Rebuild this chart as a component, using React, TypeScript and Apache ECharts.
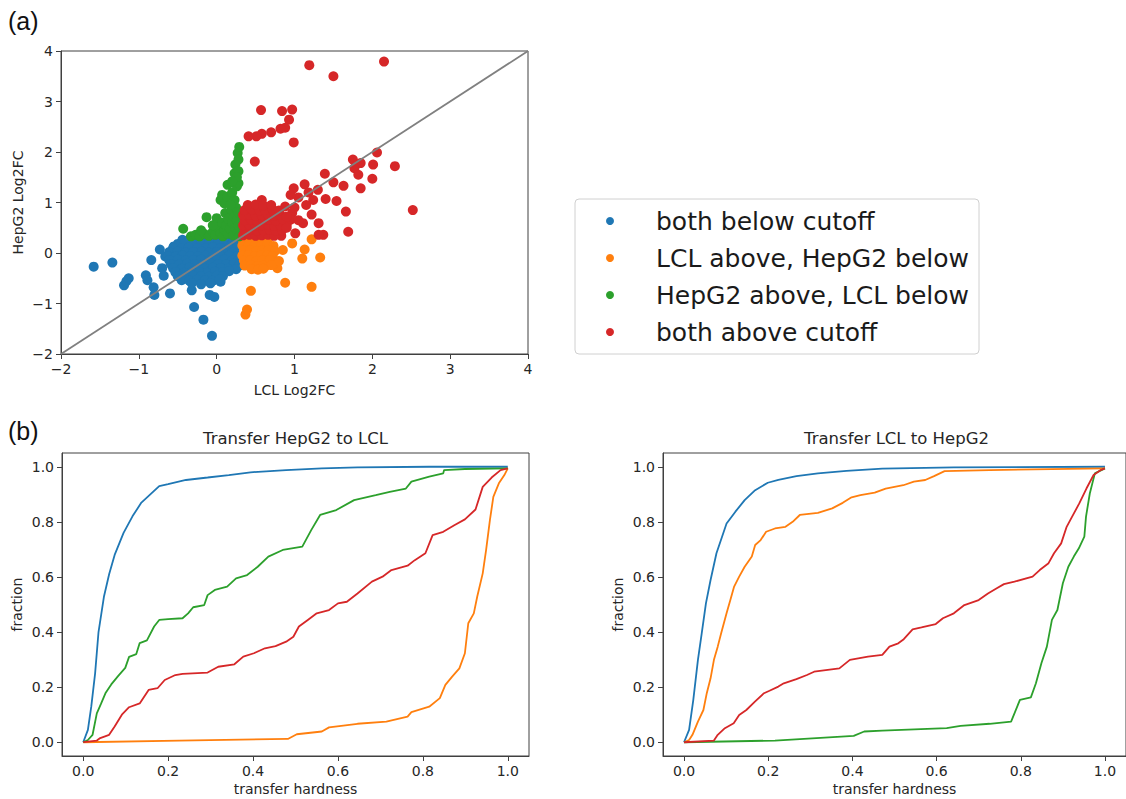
import React, { useEffect, useRef } from "react";
import * as echarts from "echarts";

// ---------- DATA ----------
const legendLabels = [
  "both below cutoff",
  "LCL above, HepG2 below",
  "HepG2 above, LCL below",
  "both above cutoff",
];
const panelTitles = ["Transfer HepG2 to LCL", "Transfer LCL to HepG2"];
const cdfTicks = [0, 0.2, 0.4, 0.6, 0.8, 1.0];

const bothBelow: number[][] = [
  [-1.58, -0.27], [-1.34, -0.19], [-1.19, -0.64], [-1.16, -0.56], [-1.13, -0.5], [-0.91, -0.44],
  [-0.89, -0.54], [-0.81, -0.68], [-0.8, -0.83], [-0.84, -0.14], [-0.73, 0.07], [-0.6, -0.8],
  [-0.29, -1.07], [-0.17, -1.32], [-0.06, -1.64], [-0.09, -0.83], [-0.03, -0.87], [0.05, -0.57],
  [-0.32, -0.74], [-0.66, -0.07], [-0.55, 0.13], [-0.7, -0.3], [-0.68, -0.45],
  [-0.44, 0.26], [-0.35, 0.27], [-0.24, 0.25], [-0.15, 0.27], [-0.05, 0.26], [0.06, 0.25], [0.15, 0.27], [0.25, 0.26],
  [-0.5, 0.18], [-0.41, 0.19], [-0.3, 0.17], [-0.2, 0.19], [-0.1, 0.18], [0.01, 0.17], [0.1, 0.19], [0.2, 0.18], [0.27, 0.17],
  [-0.56, 0.1], [-0.45, 0.09], [-0.36, 0.11], [-0.25, 0.1], [-0.14, 0.09], [-0.05, 0.11], [0.05, 0.1], [0.16, 0.09], [0.26, 0.1],
  [-0.61, 0.02], [-0.5, 0.03], [-0.4, 0.01], [-0.3, 0.02], [-0.19, 0.03], [-0.1, 0.01], [0.0, 0.02], [0.1, 0.03], [0.2, 0.01], [0.28, 0.02],
  [-0.63, -0.06], [-0.53, -0.07], [-0.44, -0.05], [-0.34, -0.06], [-0.24, -0.07], [-0.14, -0.05], [-0.04, -0.06], [0.06, -0.07], [0.16, -0.05], [0.27, -0.06],
  [-0.61, -0.14], [-0.5, -0.13], [-0.4, -0.15], [-0.3, -0.14], [-0.2, -0.13], [-0.1, -0.15], [0.0, -0.14], [0.1, -0.13], [0.2, -0.15], [0.28, -0.14],
  [-0.59, -0.22], [-0.48, -0.23], [-0.38, -0.21], [-0.28, -0.22], [-0.18, -0.23], [-0.08, -0.21], [0.02, -0.22], [0.12, -0.23], [0.22, -0.21], [0.28, -0.26],
  [-0.56, -0.3], [-0.45, -0.31], [-0.35, -0.29], [-0.25, -0.3], [-0.15, -0.31], [-0.05, -0.29], [0.05, -0.3], [0.15, -0.31], [0.25, -0.32],
  [-0.53, -0.38], [-0.42, -0.39], [-0.32, -0.37], [-0.22, -0.38], [-0.12, -0.39], [-0.02, -0.37], [0.08, -0.38], [0.16, -0.36],
  [-0.5, -0.46], [-0.4, -0.47], [-0.3, -0.45], [-0.2, -0.46], [-0.1, -0.47], [0.0, -0.45], [0.08, -0.46],
  [-0.45, -0.54], [-0.35, -0.55], [-0.25, -0.53], [-0.15, -0.54], [-0.05, -0.55], [0.04, -0.52],
  [-0.32, -0.6], [-0.2, -0.62], [-0.08, -0.6],
];

const lclAbove: number[][] = [
  [0.44, -0.75], [0.37, -1.22], [0.39, -1.12], [0.88, -0.59], [1.22, -0.67], [1.33, -0.09],
  [1.1, -0.11], [1.13, 0.07], [1.22, 0.27], [0.97, 0.19], [0.78, -0.3], [0.74, -0.21], [0.62, -0.27],
  [0.34, 0.25], [0.42, 0.26], [0.5, 0.24], [0.58, 0.25], [0.66, 0.27],
  [0.33, 0.15], [0.41, 0.16], [0.49, 0.14], [0.57, 0.15], [0.65, 0.16], [0.73, 0.14],
  [0.35, 0.05], [0.43, 0.06], [0.51, 0.04], [0.59, 0.05], [0.67, 0.06], [0.75, 0.04], [0.85, 0.06],
  [0.33, -0.05], [0.41, -0.04], [0.49, -0.06], [0.57, -0.05], [0.65, -0.04], [0.72, -0.06],
  [0.35, -0.15], [0.43, -0.14], [0.51, -0.16], [0.59, -0.15], [0.68, -0.14], [0.8, -0.16],
  [0.36, -0.25], [0.44, -0.24], [0.52, -0.26], [0.6, -0.25], [0.7, -0.24],
  [0.45, -0.32], [0.53, -0.33], [0.6, -0.31],
];

const hepAbove: number[][] = [
  [-0.43, 0.48], [-0.33, 0.33], [-0.27, 0.36], [-0.22, 0.33], [-0.16, 0.38], [-0.13, 0.71],
  [-0.1, 0.34], [-0.05, 0.42], [-0.02, 0.36], [0.0, 0.69], [0.02, 0.5], [0.05, 0.38], [0.07, 0.6],
  [0.08, 0.33], [0.1, 0.45], [0.11, 0.79], [0.12, 0.55], [0.14, 0.38], [0.15, 0.68], [0.17, 0.48],
  [0.19, 0.85], [0.2, 0.6], [0.21, 0.35], [0.22, 0.72], [0.24, 0.5], [0.25, 0.9], [0.26, 0.65],
  [0.27, 0.4], [0.28, 0.8], [0.28, 0.55], [0.29, 0.33], [0.05, 1.05], [0.07, 1.15], [0.1, 0.98],
  [0.14, 1.12], [0.14, 1.35], [0.2, 1.2], [0.23, 1.05], [0.23, 1.58], [0.24, 1.75], [0.26, 1.32],
  [0.27, 1.98], [0.28, 1.38], [0.28, 1.62], [0.28, 1.85], [0.29, 2.1], [0.26, 1.5], [0.2, 1.42],
  [0.18, 0.95], [-0.05, 0.55], [-0.2, 0.45],
];

const bothAbove: number[][] = [
  [1.19, 3.72], [2.15, 3.79], [1.5, 3.5], [0.57, 2.83], [0.84, 2.81], [0.97, 2.84], [0.93, 2.64],
  [0.88, 2.48], [0.82, 2.46], [0.7, 2.39], [0.58, 2.36], [0.51, 2.31], [0.41, 2.31], [0.99, 2.19],
  [0.49, 1.81], [2.06, 1.99], [1.75, 1.85], [1.85, 1.78], [2.01, 1.75], [2.29, 1.72], [1.77, 1.68],
  [1.82, 1.55], [1.39, 1.57], [2.0, 1.47], [1.85, 1.28], [1.63, 1.33], [1.5, 1.4], [1.13, 1.36],
  [0.99, 1.28], [1.4, 1.07], [1.54, 1.03], [1.66, 0.82], [1.69, 0.42], [2.52, 0.85], [1.3, 1.25],
  [1.24, 1.05], [1.15, 0.95], [1.22, 0.76], [1.31, 0.59], [1.11, 0.59], [1.37, 0.36], [1.31, 0.36],
  [0.83, 0.34], [1.01, 0.39], [0.97, 0.79], [0.88, 0.92], [0.58, 1.05], [0.48, 0.92], [0.65, 0.79],
  [0.34, 0.35], [0.42, 0.36], [0.5, 0.34], [0.58, 0.35], [0.66, 0.36], [0.74, 0.34],
  [0.36, 0.45], [0.44, 0.46], [0.52, 0.44], [0.6, 0.45], [0.68, 0.46], [0.76, 0.44], [0.84, 0.45],
  [0.34, 0.55], [0.42, 0.56], [0.5, 0.54], [0.58, 0.55], [0.66, 0.56], [0.74, 0.54], [0.82, 0.55], [0.9, 0.56],
  [0.36, 0.65], [0.44, 0.66], [0.52, 0.64], [0.6, 0.65], [0.68, 0.66], [0.76, 0.64], [0.86, 0.65], [0.95, 0.66],
  [0.34, 0.75], [0.42, 0.76], [0.5, 0.74], [0.58, 0.75], [0.66, 0.76], [0.74, 0.74], [0.82, 0.75],
  [0.36, 0.85], [0.45, 0.86], [0.55, 0.84], [0.62, 0.85], [0.72, 0.86], [0.8, 0.84],
  [0.4, 0.95], [0.5, 0.96], [0.6, 0.94], [0.7, 0.95],
  [0.9, 0.72], [1.0, 0.9], [1.05, 1.1], [0.95, 1.15], [1.18, 1.2], [0.9, 0.5], [1.05, 0.65],
];

const diagonal: number[][] = [[-2, -2], [4, 4]];

// Transfer HepG2 -> LCL (left panel)
const leftBlue: number[][] = [
  [0, 0], [0.011, 0.045], [0.019, 0.13], [0.028, 0.25], [0.036, 0.4], [0.049, 0.53], [0.061, 0.61],
  [0.074, 0.68], [0.095, 0.76], [0.116, 0.82], [0.137, 0.87], [0.158, 0.9], [0.179, 0.93], [0.2, 0.937],
  [0.242, 0.952], [0.293, 0.961], [0.343, 0.97], [0.394, 0.98], [0.478, 0.988], [0.562, 0.994],
  [0.646, 0.998], [0.815, 1.0], [1, 1],
];
const leftOrange: number[][] = [
  [0, 0], [0.226, 0.006], [0.482, 0.012], [0.503, 0.029], [0.562, 0.039], [0.579, 0.054], [0.646, 0.067],
  [0.714, 0.075], [0.764, 0.093], [0.773, 0.109], [0.815, 0.129], [0.84, 0.16], [0.853, 0.208],
  [0.869, 0.238], [0.886, 0.268], [0.899, 0.323], [0.907, 0.432], [0.92, 0.468], [0.928, 0.528],
  [0.941, 0.613], [0.949, 0.698], [0.958, 0.807], [0.966, 0.891], [0.979, 0.94], [0.992, 0.97], [1, 0.994],
];
const leftGreen: number[][] = [
  [0, 0], [0.011, 0.008], [0.022, 0.027], [0.032, 0.105], [0.042, 0.14], [0.053, 0.18], [0.066, 0.21],
  [0.082, 0.24], [0.099, 0.27], [0.108, 0.31], [0.125, 0.32], [0.133, 0.36], [0.15, 0.37], [0.167, 0.42],
  [0.179, 0.444], [0.2, 0.447], [0.234, 0.45], [0.247, 0.468], [0.259, 0.49], [0.285, 0.498],
  [0.293, 0.534], [0.31, 0.553], [0.339, 0.565], [0.36, 0.595], [0.386, 0.607], [0.411, 0.637],
  [0.436, 0.674], [0.47, 0.698], [0.516, 0.71], [0.537, 0.77], [0.558, 0.825], [0.596, 0.843],
  [0.638, 0.879], [0.689, 0.897], [0.722, 0.909], [0.76, 0.921], [0.773, 0.946], [0.815, 0.964],
  [0.848, 0.976], [0.85, 0.988], [0.899, 0.992], [1, 0.994],
];
const leftRed: number[][] = [
  [0, 0], [0.032, 0.006], [0.04, 0.015], [0.061, 0.027], [0.074, 0.057], [0.091, 0.1], [0.108, 0.127],
  [0.133, 0.141], [0.154, 0.19], [0.175, 0.196], [0.192, 0.226], [0.217, 0.244], [0.234, 0.248],
  [0.293, 0.253], [0.318, 0.274], [0.356, 0.283], [0.377, 0.311], [0.402, 0.323], [0.428, 0.341],
  [0.453, 0.349], [0.478, 0.365], [0.495, 0.383], [0.508, 0.42], [0.529, 0.444], [0.55, 0.468],
  [0.579, 0.48], [0.6, 0.504], [0.621, 0.51], [0.646, 0.54], [0.68, 0.583], [0.705, 0.601],
  [0.726, 0.625], [0.764, 0.641], [0.781, 0.661], [0.806, 0.686], [0.823, 0.752], [0.848, 0.764],
  [0.874, 0.788], [0.899, 0.809], [0.924, 0.845], [0.941, 0.927], [0.962, 0.961], [0.983, 0.988], [1, 0.994],
];

// Transfer LCL -> HepG2 (right panel)
const rightBlue: number[][] = [
  [0, 0], [0.012, 0.045], [0.022, 0.154], [0.033, 0.299], [0.042, 0.395], [0.052, 0.504], [0.063, 0.589],
  [0.077, 0.686], [0.101, 0.794], [0.122, 0.837], [0.144, 0.879], [0.169, 0.915], [0.199, 0.942],
  [0.224, 0.952], [0.267, 0.966], [0.318, 0.976], [0.386, 0.985], [0.471, 0.993], [0.641, 0.998], [1, 1],
];
const rightOrange: number[][] = [
  [0, 0], [0.012, 0.008], [0.02, 0.027], [0.033, 0.075], [0.046, 0.117], [0.054, 0.178], [0.063, 0.232],
  [0.071, 0.299], [0.08, 0.347], [0.088, 0.395], [0.101, 0.468], [0.11, 0.516], [0.119, 0.565],
  [0.131, 0.601], [0.144, 0.637], [0.161, 0.674], [0.169, 0.716], [0.182, 0.734], [0.195, 0.764],
  [0.216, 0.776], [0.241, 0.782], [0.258, 0.8], [0.275, 0.825], [0.318, 0.833], [0.352, 0.849],
  [0.377, 0.869], [0.398, 0.889], [0.419, 0.897], [0.453, 0.906], [0.479, 0.921], [0.521, 0.933],
  [0.546, 0.946], [0.573, 0.952], [0.594, 0.966], [0.619, 0.984], [0.726, 0.988], [1, 0.994],
];
const rightGreen: number[][] = [
  [0, 0], [0.216, 0.006], [0.403, 0.023], [0.428, 0.039], [0.471, 0.042], [0.624, 0.051], [0.657, 0.059],
  [0.726, 0.067], [0.777, 0.075], [0.785, 0.105], [0.798, 0.154], [0.824, 0.163], [0.836, 0.214],
  [0.849, 0.287], [0.862, 0.347], [0.874, 0.444], [0.887, 0.48], [0.9, 0.577], [0.913, 0.637],
  [0.926, 0.674], [0.938, 0.704], [0.951, 0.746], [0.955, 0.819], [0.964, 0.903], [0.976, 0.976], [1, 0.994],
];
const rightRed: number[][] = [
  [0, 0], [0.071, 0.006], [0.08, 0.027], [0.097, 0.051], [0.118, 0.069], [0.131, 0.099], [0.148, 0.117],
  [0.169, 0.148], [0.19, 0.178], [0.203, 0.187], [0.224, 0.202], [0.237, 0.214], [0.267, 0.229],
  [0.292, 0.244], [0.309, 0.256], [0.369, 0.268], [0.394, 0.299], [0.437, 0.311], [0.471, 0.317],
  [0.488, 0.347], [0.509, 0.359], [0.522, 0.374], [0.543, 0.41], [0.564, 0.417], [0.598, 0.429],
  [0.615, 0.45], [0.641, 0.468], [0.666, 0.498], [0.7, 0.516], [0.722, 0.54], [0.743, 0.559],
  [0.76, 0.574], [0.785, 0.583], [0.828, 0.601], [0.845, 0.625], [0.866, 0.65], [0.879, 0.686],
  [0.896, 0.722], [0.909, 0.782], [0.922, 0.819], [0.939, 0.867], [0.956, 0.921], [0.973, 0.97],
  [0.99, 0.988], [1, 0.994],
];

// ---------- STYLE ----------
const COLORS = ["#1f77b4", "#ff7f0e", "#2ca02c", "#d62728"];
const FONT = "DejaVu Sans";
const TXT = "#262626";
const FRAME = "#404040";

const minusFmt = (v: number) => (v < 0 ? "\u2212" + Math.abs(v) : String(v));
const fixedFmt = (v: number) => Number(v).toFixed(1);

export default function App() {
  const ref = useRef<HTMLDivElement>(null);

  useEffect(() => {
    document.body.style.margin = "0";
    const chart = echarts.init(ref.current!, undefined, { renderer: "svg" });

    const tickStyle = { show: true, length: 5, lineStyle: { color: FRAME, width: 1 } };
    const labelStyle = { fontSize: 14, color: TXT, fontFamily: FONT };
    const nameStyle = { fontSize: 14, color: TXT, fontFamily: FONT };

    const cdfX = (gi: number) => ({
      gridIndex: gi, type: "value", min: -0.05, max: 1.05, position: "bottom",
      axisLine: { show: true, onZero: false, lineStyle: { color: FRAME } },
      axisTick: { ...tickStyle, customValues: cdfTicks }, splitLine: { show: false },
      axisLabel: { ...labelStyle, margin: 8, formatter: fixedFmt, customValues: cdfTicks },
      name: "transfer hardness", nameLocation: "middle", nameGap: 26, nameTextStyle: nameStyle,
    });
    const cdfY = (gi: number) => ({
      gridIndex: gi, type: "value", min: -0.05, max: 1.05, position: "left",
      axisLine: { show: true, onZero: false, lineStyle: { color: FRAME } },
      axisTick: { ...tickStyle, customValues: cdfTicks }, splitLine: { show: false },
      axisLabel: { ...labelStyle, margin: 8, formatter: fixedFmt, customValues: cdfTicks },
      name: "fraction", nameLocation: "middle", nameGap: 38, nameTextStyle: nameStyle,
    });

    const lineS = (gi: number, data: number[][], color: string) => ({
      type: "line", xAxisIndex: gi, yAxisIndex: gi, data, showSymbol: false, symbol: "none",
      lineStyle: { color, width: 1.8 }, itemStyle: { color }, silent: true,
    });
    const scatterS = (data: number[][], color: string, name: string) => ({
      type: "scatter", name, xAxisIndex: 0, yAxisIndex: 0, data, symbolSize: 10,
      itemStyle: { color, opacity: 1 }, silent: true,
    });

    const legendYs = [221, 258, 295, 332];

    chart.setOption({
      animation: false,
      backgroundColor: "#ffffff",
      grid: [
        { left: 61, top: 51, width: 467, height: 303, show: true, borderColor: FRAME, borderWidth: 1 },
        { left: 62, top: 453, width: 467, height: 303, show: true, borderColor: FRAME, borderWidth: 1 },
        { left: 663, top: 453, width: 467, height: 303, show: true, borderColor: FRAME, borderWidth: 1 },
      ],
      xAxis: [
        {
          gridIndex: 0, type: "value", min: -2, max: 4, interval: 1,
          axisLine: { show: true, onZero: false, lineStyle: { color: FRAME } },
          axisTick: tickStyle, splitLine: { show: false },
          axisLabel: { ...labelStyle, margin: 8, formatter: minusFmt },
          name: "LCL Log2FC", nameLocation: "middle", nameGap: 29, nameTextStyle: nameStyle,
        },
        cdfX(1),
        cdfX(2),
      ],
      yAxis: [
        {
          gridIndex: 0, type: "value", min: -2, max: 4, interval: 1,
          axisLine: { show: true, onZero: false, lineStyle: { color: FRAME } },
          axisTick: tickStyle, splitLine: { show: false },
          axisLabel: { ...labelStyle, margin: 8, formatter: minusFmt },
          name: "HepG2 Log2FC", nameLocation: "middle", nameGap: 36, nameTextStyle: nameStyle,
        },
        cdfY(1),
        cdfY(2),
      ],
      series: [
        scatterS(bothBelow, COLORS[0], legendLabels[0]),
        scatterS(lclAbove, COLORS[1], legendLabels[1]),
        scatterS(hepAbove, COLORS[2], legendLabels[2]),
        scatterS(bothAbove, COLORS[3], legendLabels[3]),
        {
          type: "line", xAxisIndex: 0, yAxisIndex: 0, data: diagonal, showSymbol: false, symbol: "none",
          lineStyle: { color: "#808080", width: 1.8 }, silent: true, z: 5,
        },
        lineS(1, leftBlue, COLORS[0]),
        lineS(1, leftOrange, COLORS[1]),
        lineS(1, leftGreen, COLORS[2]),
        lineS(1, leftRed, COLORS[3]),
        lineS(2, rightBlue, COLORS[0]),
        lineS(2, rightOrange, COLORS[1]),
        lineS(2, rightGreen, COLORS[2]),
        lineS(2, rightRed, COLORS[3]),
      ],
      graphic: [
        { type: "text", left: 8, top: 8, style: { text: "(a)", fontSize: 25, fontFamily: "Liberation Sans", fill: "#111" } },
        { type: "text", left: 8, top: 418, style: { text: "(b)", fontSize: 25, fontFamily: "Liberation Sans", fill: "#111" } },
        {
          type: "text", x: 295.5, y: 438,
          style: { text: panelTitles[0], fontSize: 16.5, fontFamily: FONT, fill: TXT, align: "center", verticalAlign: "middle" },
        },
        {
          type: "text", x: 896.5, y: 438,
          style: { text: panelTitles[1], fontSize: 16.5, fontFamily: FONT, fill: TXT, align: "center", verticalAlign: "middle" },
        },
        {
          type: "rect", shape: { x: 575, y: 199, width: 404, height: 155, r: 4 },
          style: { fill: "#ffffff", stroke: "#d0d0d0", lineWidth: 1 }, z: 10,
        },
        ...legendLabels.flatMap((lab, i) => [
          { type: "circle", shape: { cx: 610, cy: legendYs[i], r: 4 }, style: { fill: COLORS[i] }, z: 11 },
          {
            type: "text", x: 656, y: legendYs[i],
            style: { text: lab, fontSize: 25, fontFamily: FONT, fill: "#1a1a1a", verticalAlign: "middle" }, z: 11,
          },
        ]),
      ],
    });

    return () => chart.dispose();
  }, []);

  return <div ref={ref} style={{ width: 1126, height: 799 }} />;
}
